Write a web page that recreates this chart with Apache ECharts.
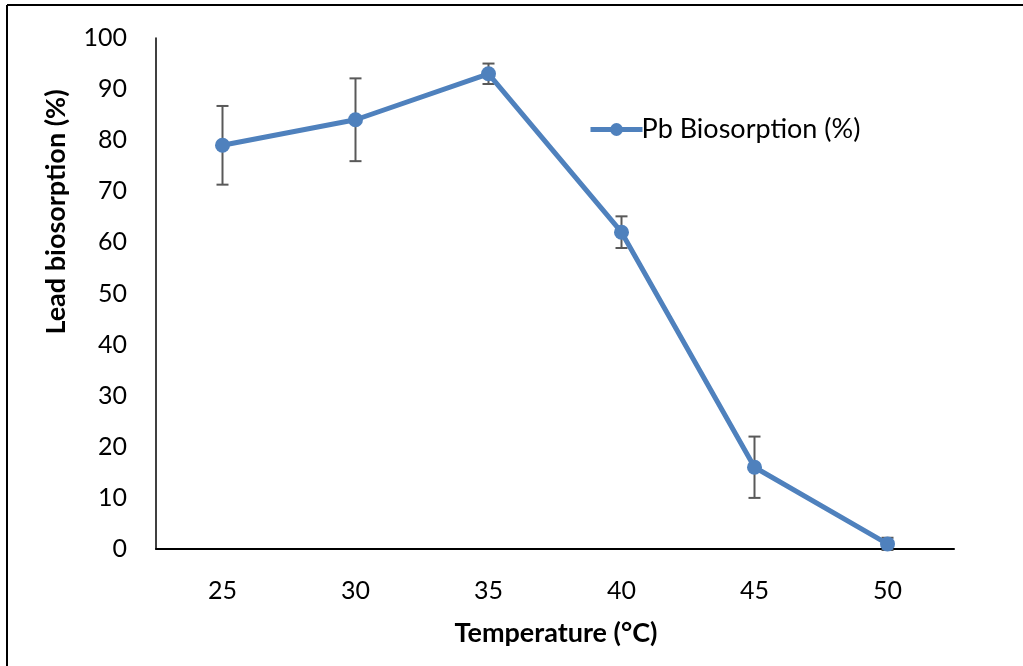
<!DOCTYPE html>
<html>
<head>
<meta charset="utf-8">
<script src="https://cdn.jsdelivr.net/npm/echarts@6/dist/echarts.min.js"></script>
<style>
  html, body { margin: 0; padding: 0; background: #fff; }
  #chart { width: 1023px; height: 666px; }
</style>
</head>
<body>
<div id="chart"></div>
<script>
// Temperature (°C) categories and mean lead biosorption (%)
const temperatures = ['25', '30', '35', '40', '45', '50'];
const biosorption = [79, 84, 93, 62, 16, 1];
// Standard deviation shown as symmetric error bars
const errorMargin = [7.7, 8.1, 2.0, 3.1, 6.0, 1.2];
const yTicks = { min: 0, max: 100, step: 10 };

const FONT = 'Lato, "Open Sans", sans-serif';
const LINE_BLUE = '#4F81BD';
const ERR_GREY = '#595959';

const errorData = temperatures.map((t, i) => [i, biosorption[i] - errorMargin[i], biosorption[i] + errorMargin[i]]);

const chart = echarts.init(document.getElementById('chart'), null, { renderer: 'canvas' });

chart.setOption({
  animation: false,
  backgroundColor: '#fff',
  grid: { left: 156, top: 38, right: 69, bottom: 117, containLabel: false },
  legend: {
    left: 583,
    top: 111,
    itemWidth: 52,
    itemHeight: 16,
    itemGap: 0,
    data: ['Pb Biosorption (%)'],
    lineStyle: { width: 5, color: LINE_BLUE },
    textStyle: { fontFamily: FONT, fontSize: 27, color: '#000', padding: [0, 0, 0, -6] }
  },
  xAxis: {
    type: 'category',
    data: temperatures,
    axisLine: { show: true, lineStyle: { color: '#000', width: 2 } },
    axisTick: { show: false },
    axisLabel: { color: '#000', fontFamily: FONT, fontSize: 25, margin: 29 },
    splitLine: { show: false }
  },
  yAxis: {
    type: 'value',
    min: yTicks.min,
    max: yTicks.max,
    interval: yTicks.step,
    axisLine: { show: true, lineStyle: { color: '#000', width: 1.5 } },
    axisTick: { show: false },
    axisLabel: { color: '#000', fontFamily: FONT, fontSize: 25, margin: 29 },
    splitLine: { show: false }
  },
  graphic: [
    // chart frame (top and left edges)
    { type: 'line', shape: { x1: 7, y1: 5, x2: 1023, y2: 5 }, style: { stroke: '#000', lineWidth: 2 } },
    { type: 'line', shape: { x1: 7, y1: 5, x2: 7, y2: 666 }, style: { stroke: '#000', lineWidth: 2 } },
    {
      type: 'text', x: 556, y: 633,
      style: { text: 'Temperature (°C)', font: 'bold 27px ' + FONT, fill: '#000', align: 'center', verticalAlign: 'middle' }
    },
    {
      type: 'text', x: 56, y: 212, rotation: Math.PI / 2,
      style: { text: 'Lead biosorption (%)', font: 'bold 27px ' + FONT, fill: '#000', align: 'center', verticalAlign: 'middle' }
    }
  ],
  series: [
    {
      type: 'custom',
      name: 'error',
      z: 1,
      data: errorData,
      renderItem: function (params, api) {
        const x = api.value(0);
        const lo = api.coord([x, api.value(1)]);
        const hi = api.coord([x, api.value(2)]);
        const half = 6;
        const style = { stroke: ERR_GREY, lineWidth: 2 };
        return {
          type: 'group',
          children: [
            { type: 'line', shape: { x1: lo[0], y1: lo[1], x2: hi[0], y2: hi[1] }, style: style },
            { type: 'line', shape: { x1: hi[0] - half, y1: hi[1], x2: hi[0] + half, y2: hi[1] }, style: style },
            { type: 'line', shape: { x1: lo[0] - half, y1: lo[1], x2: lo[0] + half, y2: lo[1] }, style: style }
          ]
        };
      }
    },
    {
      type: 'line',
      name: 'Pb Biosorption (%)',
      z: 3,
      data: biosorption,
      symbol: 'circle',
      symbolSize: 15,
      lineStyle: { color: LINE_BLUE, width: 5 },
      itemStyle: { color: LINE_BLUE }
    }
  ]
});
</script>
</body>
</html>
